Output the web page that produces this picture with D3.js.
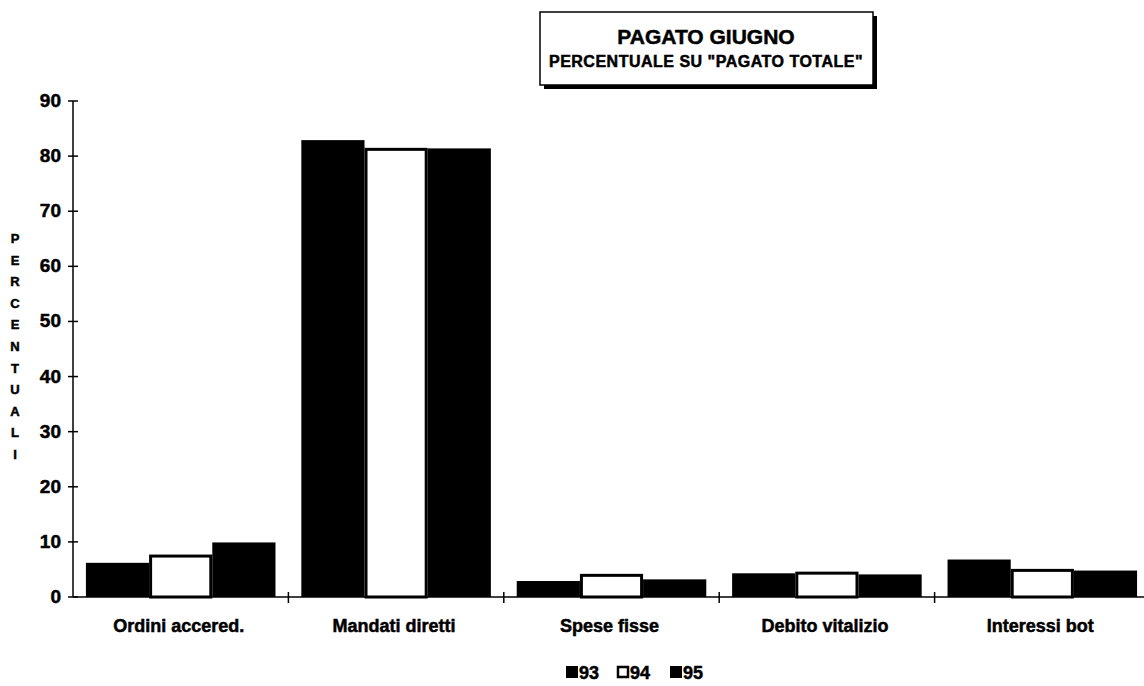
<!DOCTYPE html>
<html><head><meta charset="utf-8">
<script src="https://cdn.jsdelivr.net/npm/d3@7"></script>
<style>body{margin:0;background:#fff}svg{display:block}text{font-family:"Liberation Sans",Arial,sans-serif;font-weight:bold;fill:#000;stroke:#000;stroke-width:0.5}</style>
</head><body>
<svg id="c" width="1144" height="686"></svg>
<script>
const categories = ["Ordini accered.", "Mandati diretti", "Spese fisse", "Debito vitalizio", "Interessi bot"];
const seriesNames = ["93", "94", "95"];
const v93 = [6.2, 82.9, 2.9, 4.3, 6.8];
const v94 = [7.7, 81.5, 4.2, 4.6, 5.1];
const v95 = [9.9, 81.4, 3.2, 4.1, 4.8];
const yTicks = [0,10,20,30,40,50,60,70,80,90];
const series = [v93, v94, v95];

const svg = d3.select("#c");
const x0 = 73, x1 = 1150, yTop = 101, yBot = 597;
const x = d3.scaleBand().domain(categories).range([x0, x1]).paddingInner(0.12).paddingOuter(0.06);
const y = d3.scaleLinear().domain([0, 90]).range([yBot, yTop]);
const xs = d3.scaleBand().domain(seriesNames).range([0, x.bandwidth()]);
const step = x.step();

// bars
seriesNames.forEach((s, si) => {
  const g = svg.append("g");
  g.selectAll("rect").data(series[si]).join("rect")
    .attr("x", (d, i) => x(categories[i]) + xs(s) + (si === 1 ? 1.5 : 0))
    .attr("y", d => y(d) + (si === 1 ? 1.5 : 0))
    .attr("width", xs.bandwidth() - (si === 1 ? 3 : 0))
    .attr("height", d => yBot - y(d) - (si === 1 ? 1.5 : 0))
    .attr("fill", si === 1 ? "#fff" : "#000")
    .attr("stroke", "#000").attr("stroke-width", si === 1 ? 3 : 0);
});

// y axis
svg.append("line").attr("x1", x0).attr("x2", x0).attr("y1", yTop).attr("y2", yBot).attr("stroke", "#000").attr("stroke-width", 1.5);
svg.selectAll(".yt").data(yTicks).join("line")
  .attr("x1", x0 - 5).attr("x2", x0 + 5).attr("y1", d => y(d)).attr("y2", d => y(d))
  .attr("stroke", "#000").attr("stroke-width", 1.5);
svg.selectAll(".yl").data(yTicks).join("text")
  .attr("x", 61).attr("y", d => y(d) + 6).attr("text-anchor", "end")
  .style("font-size", "19px").text(d => d);

// x axis
svg.append("line").attr("x1", x0).attr("x2", 1144).attr("y1", yBot).attr("y2", yBot).attr("stroke", "#000").attr("stroke-width", 1.5);
svg.selectAll(".xt").data(categories.slice(1)).join("line")
  .attr("x1", d => x(d) - step * x.paddingInner() / 2).attr("x2", d => x(d) - step * x.paddingInner() / 2)
  .attr("y1", yBot - 5).attr("y2", yBot + 6).attr("stroke", "#000").attr("stroke-width", 1.5);
svg.selectAll(".xl").data(categories).join("text")
  .attr("x", d => x(d) + x.bandwidth() / 2 - 2).attr("y", 632).attr("text-anchor", "middle")
  .style("font-size", "18px").text(d => d);

// y label stacked letters
const ylab = "PERCENTUALI".split("");
svg.selectAll(".yv").data(ylab).join("text")
  .attr("x", 15).attr("y", (d, i) => 243 + i * 21.6).attr("text-anchor", "middle")
  .style("font-size", "13px").text(d => d);

// title box
svg.append("rect").attr("x", 544).attr("y", 16).attr("width", 333).attr("height", 73).attr("fill", "#000");
svg.append("rect").attr("x", 540).attr("y", 12).attr("width", 333).attr("height", 73).attr("fill", "#fff").attr("stroke", "#000").attr("stroke-width", 1.5);
svg.append("text").attr("x", 706).attr("y", 44).attr("text-anchor", "middle").style("font-size", "21px").text("PAGATO GIUGNO");
svg.append("text").attr("x", 706).attr("y", 67).attr("text-anchor", "middle").style("font-size", "16px").style("letter-spacing", "0.5px").text("PERCENTUALE SU \"PAGATO TOTALE\"");

// legend
const lx = [566, 617, 670];
seriesNames.forEach((s, i) => {
  svg.append("rect").attr("x", lx[i] + (i === 1 ? 1 : 0)).attr("y", 666 + (i === 1 ? 1 : 0))
    .attr("width", i === 1 ? 10 : 12).attr("height", i === 1 ? 10 : 12)
    .attr("fill", i === 1 ? "#fff" : "#000").attr("stroke", "#000").attr("stroke-width", i === 1 ? 2.5 : 0);
  svg.append("text").attr("x", lx[i] + 13).attr("y", 679).style("font-size", "18px").text(s);
});
</script>
</body></html>
